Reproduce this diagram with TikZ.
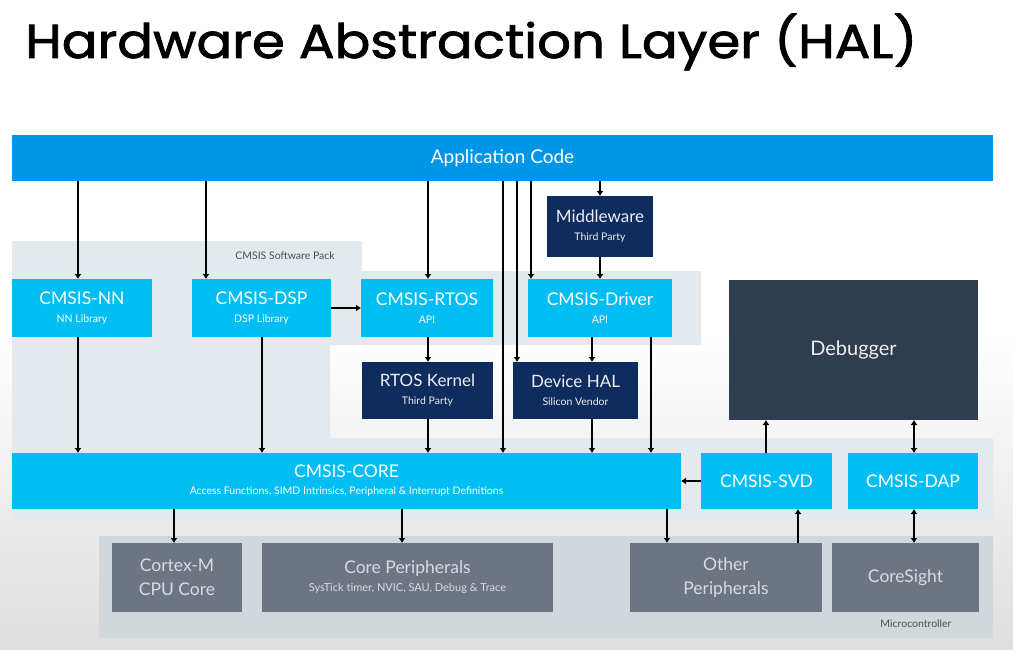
\documentclass[tikz,border=0pt]{standalone}
\usepackage{fontspec}
\setmainfont{Lato}
\newfontfamily\titlefont[FakeBold=1.6]{Poppins}
\usetikzlibrary{arrows.meta}
\definecolor{appblue}{HTML}{0096E8}
\definecolor{cmsis}{HTML}{00BEF4}
\definecolor{navy}{HTML}{0F2C5E}
\definecolor{dbgcol}{HTML}{2E3D4F}
\definecolor{pergrey}{HTML}{6C7581}
\definecolor{packgrey}{HTML}{E2EAEE}
\definecolor{microgrey}{HTML}{D1D8DC}
\definecolor{pertext}{HTML}{D8DCE1}
\definecolor{labtext}{HTML}{4A4F55}
\newcommand{\subf}{\fontsize{10.5}{12}\selectfont}
\tikzset{
  blk/.style={rectangle, inner sep=0pt, outer sep=0pt, align=center, draw=none},
  cbox/.style={blk, fill=cmsis, text=white, font=\fontsize{17.5}{19}\selectfont},
  nbox/.style={blk, fill=navy, text=white!92!navy, font=\fontsize{17}{19}\selectfont},
  gbox/.style={blk, fill=pergrey, text=pertext, font=\fontsize{17.5}{24}\selectfont},
  arr/.style={line width=2.8pt, draw=black, -{Latex[length=5pt,width=7pt]}},
  darr/.style={line width=2.8pt, draw=black, {Latex[length=5pt,width=7pt]}-{Latex[length=5pt,width=7pt]}},
  grouplab/.style={text=labtext, font=\subf, inner sep=0pt}
}
\begin{document}
\begin{tikzpicture}[x=1pt,y=-1pt]
\useasboundingbox (0,0) rectangle (1013,650);
\fill[white] (0,0) rectangle (1013,650);
\shade[top color=white, bottom color=black!13] (0,330) rectangle (1013,650);
% title
\node[anchor=base west, inner sep=0pt] (title) at (25,58) {\scalebox{1}[0.9]{\resizebox{892pt}{!}{\titlefont Hardware Abstraction Layer (HAL)}}};
% group regions
\fill[packgrey] (12,241) -- (362,241) -- (362,271) -- (701,271) -- (701,345) -- (330,345) -- (330,438) -- (993,438) -- (993,521) -- (12,521) -- cycle;
\fill[microgrey] (99,536) rectangle (993,638);
\node[grouplab] (packlab) at (285,256) {CMSIS Software Pack};
\node[grouplab] (microlab) at (916,624) {Microcontroller};
% boxes
\node[blk, fill=appblue, text=white, font=\fontsize{19}{22}\selectfont, minimum width=981pt, minimum height=46pt] (app) at (502.5,158) {Application Code};
\node[cbox, minimum width=140pt, minimum height=58pt] (nn) at (82,308) {CMSIS-NN\\[-1pt]{\subf NN Library}};
\node[cbox, minimum width=139pt, minimum height=58pt] (dsp) at (261.5,308) {CMSIS-DSP\\[-1pt]{\subf DSP Library}};
\node[cbox, minimum width=132pt, minimum height=58pt] (rtos) at (427,308) {CMSIS-RTOS\\[-1pt]{\subf API}};
\node[cbox, minimum width=144pt, minimum height=58pt] (drv) at (600,308) {CMSIS-Driver\\[-1pt]{\subf API}};
\node[nbox, minimum width=106pt, minimum height=61pt] (mid) at (600,226.5) {Middleware\\[-1pt]{\subf Third Party}};
\node[nbox, minimum width=131pt, minimum height=57pt] (kernel) at (427.5,390.5) {RTOS Kernel\\[-1pt]{\subf Third Party}};
\node[nbox, minimum width=125pt, minimum height=57pt] (dhal) at (575.5,390.5) {Device HAL\\[-1pt]{\subf Silicon Vendor}};
\node[blk, fill=dbgcol, text=white!92!dbgcol, font=\fontsize{20}{22}\selectfont, minimum width=249pt, minimum height=140pt] (dbg) at (853.5,350) {Debugger};
\node[cbox, minimum width=669pt, minimum height=56pt] (core) at (346.5,481) {CMSIS-CORE\\[-2pt]{\subf Access Functions, SIMD Intrinsics, Peripheral \& Interrupt Definitions}};
\node[cbox, minimum width=131pt, minimum height=56pt] (svd) at (766.5,481) {CMSIS-SVD};
\node[cbox, minimum width=130pt, minimum height=56pt] (dap) at (913,481) {CMSIS-DAP};
\node[gbox, minimum width=130pt, minimum height=69pt] (cortex) at (177,577.5) {Cortex-M\\CPU Core};
\node[gbox, minimum width=291pt, minimum height=69pt] (cperiph) at (407.5,577.5) {Core Peripherals\\[-6pt]{\fontsize{11}{13}\selectfont SysTick timer, NVIC, SAU, Debug \& Trace}};
\node[gbox, minimum width=192pt, minimum height=69pt] (other) at (726,577.5) {Other\\Peripherals};
\node[gbox, minimum width=147pt, minimum height=69pt] (coresight) at (905.5,577.5) {CoreSight};
% column coordinates
\coordinate (c78) at (78,0);
\coordinate (c174) at (174,0);
\coordinate (c206) at (206,0);
\coordinate (c262) at (262,0);
\coordinate (c402) at (402,0);
\coordinate (c428) at (428,0);
\coordinate (c503) at (503,0);
\coordinate (c517) at (517,0);
\coordinate (c531) at (531,0);
\coordinate (c592) at (592,0);
\coordinate (c600) at (600,0);
\coordinate (c651) at (651,0);
\coordinate (c667) at (667,0);
\coordinate (c766) at (766,0);
\coordinate (c798) at (798,0);
\coordinate (c914) at (914,0);
% connectors
\draw[arr] (app.south -| c78) -- (nn.north -| c78);
\draw[arr] (app.south -| c206) -- (dsp.north -| c206);
\draw[arr] (app.south -| c428) -- (rtos.north -| c428);
\draw[arr] (app.south -| c503) -- (core.north -| c503);
\draw[arr] (app.south -| c517) -- (dhal.north -| c517);
\draw[arr] (app.south -| c531) -- (drv.north -| c531);
\draw[arr] (app.south -| c600) -- (mid.north -| c600);
\draw[arr] (mid.south -| c600) -- (drv.north -| c600);
\draw[arr] (dsp.east) -- (rtos.west);
\draw[arr] (nn.south -| c78) -- (core.north -| c78);
\draw[arr] (dsp.south -| c262) -- (core.north -| c262);
\draw[arr] (rtos.south -| c428) -- (kernel.north -| c428);
\draw[arr] (kernel.south -| c428) -- (core.north -| c428);
\draw[arr] (drv.south -| c592) -- (dhal.north -| c592);
\draw[arr] (dhal.south -| c592) -- (core.north -| c592);
\draw[arr] (drv.south -| c651) -- (core.north -| c651);
\draw[arr] (svd.west) -- (core.east);
\draw[arr] (svd.north -| c766) -- (dbg.south -| c766);
\draw[darr] (dap.north -| c914) -- (dbg.south -| c914);
\draw[arr] (other.north -| c798) -- (svd.south -| c798);
\draw[darr] (dap.south -| c914) -- (coresight.north -| c914);
\draw[arr] (core.south -| c174) -- (cortex.north -| c174);
\draw[arr] (core.south -| c402) -- (cperiph.north -| c402);
\draw[arr] (core.south -| c667) -- (other.north -| c667);
\end{tikzpicture}
\end{document}
